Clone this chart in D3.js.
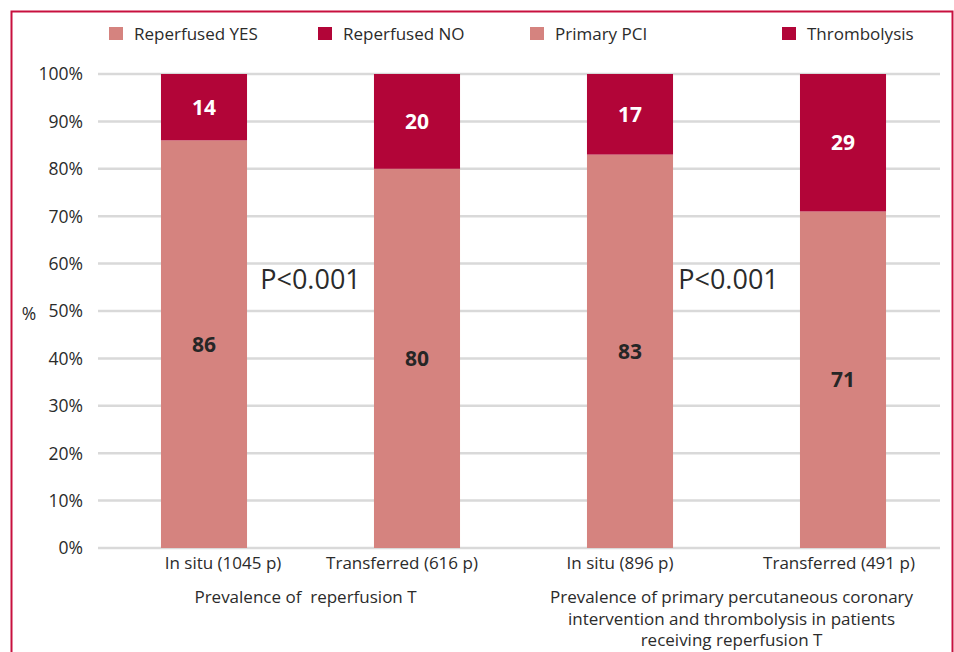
<!DOCTYPE html>
<html>
<head>
<meta charset="utf-8">
<style>
  body { margin: 0; background: #fff; }
  text { font-family: "Open Sans", "Noto Sans", sans-serif; fill: #2b2b2b; }
</style>
<script src="https://d3js.org/d3.v7.min.js"></script>
</head>
<body>
<script>
// data
var categories = ["In situ (1045 p)", "Transferred (616 p)", "In situ (896 p)", "Transferred (491 p)"];
var lowerValues = [86, 80, 83, 71];   // Reperfused YES / Primary PCI
var upperValues = [14, 20, 17, 29];   // Reperfused NO / Thrombolysis
var legendLabels = ["Reperfused YES", "Reperfused NO", "Primary PCI", "Thrombolysis"];
var yTicks = [0, 10, 20, 30, 40, 50, 60, 70, 80, 90, 100];
var groupLabels = [
  ["Prevalence of  reperfusion T"],
  ["Prevalence of primary percutaneous coronary", "intervention and thrombolysis in patients", "receiving reperfusion T"]
];
var pLabels = ["P<0.001", "P<0.001"];

var width = 954, height = 652;
var light = "#d5837f", dark = "#b20538";

var svg = d3.select("body").append("svg")
    .attr("width", width)
    .attr("height", height);

// frame
svg.append("rect")
    .attr("x", 11.5).attr("y", 11.5)
    .attr("width", 941).attr("height", 660)
    .attr("fill", "none")
    .attr("stroke", "#c8103f")
    .attr("stroke-width", 2);

var x = d3.scaleBand()
    .domain(categories)
    .range([97.5, 949.5])
    .paddingInner(0.596)
    .paddingOuter(0.298);

var y = d3.scaleLinear()
    .domain([0, 100])
    .range([548, 74]);

// gridlines
svg.append("g").selectAll("line")
    .data(yTicks)
  .enter().append("line")
    .attr("x1", 98).attr("x2", 940)
    .attr("y1", function(d) { return y(d); })
    .attr("y2", function(d) { return y(d); })
    .attr("stroke", "#d9d9d9")
    .attr("stroke-width", 2.5);

// y tick labels
svg.append("g").selectAll("text")
    .data(yTicks)
  .enter().append("text")
    .attr("x", 83)
    .attr("y", function(d) { return y(d); })
    .attr("dy", "0.36em")
    .attr("text-anchor", "end")
    .style("font-size", "17.5px")
    .text(function(d) { return d + "%"; });

svg.append("text")
    .attr("x", 29).attr("y", 314)
    .attr("dy", "0.36em")
    .attr("text-anchor", "middle")
    .style("font-size", "17.5px")
    .text("%");

// bars
var bars = svg.append("g").selectAll("g")
    .data(categories)
  .enter().append("g");

bars.append("rect")
    .attr("x", function(d) { return x(d); })
    .attr("width", x.bandwidth())
    .attr("y", function(d, i) { return y(lowerValues[i]); })
    .attr("height", function(d, i) { return y(0) - y(lowerValues[i]); })
    .attr("fill", light);

bars.append("rect")
    .attr("x", function(d) { return x(d); })
    .attr("width", x.bandwidth())
    .attr("y", function(d, i) { return y(lowerValues[i] + upperValues[i]); })
    .attr("height", function(d, i) { return y(lowerValues[i]) - y(lowerValues[i] + upperValues[i]); })
    .attr("fill", dark);

// value labels
bars.append("text")
    .attr("x", function(d) { return x(d) + x.bandwidth() / 2; })
    .attr("y", function(d, i) { return (y(0) + y(lowerValues[i])) / 2; })
    .attr("dy", "0.36em")
    .attr("text-anchor", "middle")
    .style("font-size", "21px")
    .style("font-weight", "bold")
    .style("fill", "#262626")
    .text(function(d, i) { return lowerValues[i]; });

bars.append("text")
    .attr("x", function(d) { return x(d) + x.bandwidth() / 2; })
    .attr("y", function(d, i) { return (y(lowerValues[i]) + y(lowerValues[i] + upperValues[i])) / 2; })
    .attr("dy", "0.36em")
    .attr("text-anchor", "middle")
    .style("font-size", "21px")
    .style("font-weight", "bold")
    .style("fill", "#fff")
    .text(function(d, i) { return upperValues[i]; });

// category labels (the original sets them slightly off the bar centres)
var labelShift = [19, -15, -10, -4];
bars.append("text")
    .attr("x", function(d, i) { return x(d) + x.bandwidth() / 2 + labelShift[i]; })
    .attr("y", 569)
    .attr("text-anchor", "middle")
    .style("font-size", "17px")
    .text(function(d) { return d; });

// group labels, centred under each pair of bars
groupLabels.forEach(function(lines, g) {
  var cx = (x(categories[2 * g]) + x(categories[2 * g + 1]) + x.bandwidth()) / 2 - 5;
  svg.append("text")
      .attr("x", cx)
      .attr("y", 603)
      .attr("text-anchor", "middle")
      .attr("xml:space", "preserve")
      .style("white-space", "pre")
      .style("font-size", "17px")
    .selectAll("tspan")
      .data(lines)
    .enter().append("tspan")
      .attr("x", cx)
      .attr("dy", function(d, i) { return i ? 21.5 : 0; })
      .text(function(d) { return d; });
});

// p values between the bars of each group
var pShift = [0, -8];
pLabels.forEach(function(p, g) {
  var cx = (x(categories[2 * g]) + x(categories[2 * g + 1]) + x.bandwidth()) / 2 + pShift[g];
  svg.append("text")
      .attr("x", cx)
      .attr("y", 289)
      .attr("text-anchor", "middle")
      .style("font-size", "27px")
      .text(p);
});

// legend
var legendX = [109, 318, 530, 782];
var legend = svg.append("g").selectAll("g")
    .data(legendLabels)
  .enter().append("g")
    .attr("transform", function(d, i) { return "translate(" + legendX[i] + ",27)"; });

legend.append("rect")
    .attr("width", 14).attr("height", 13)
    .attr("fill", function(d, i) { return i % 2 ? dark : light; });

legend.append("text")
    .attr("x", 25)
    .attr("y", 6.5)
    .attr("dy", "0.36em")
    .style("font-size", "17px")
    .text(function(d) { return d; });
</script>
</body>
</html>
